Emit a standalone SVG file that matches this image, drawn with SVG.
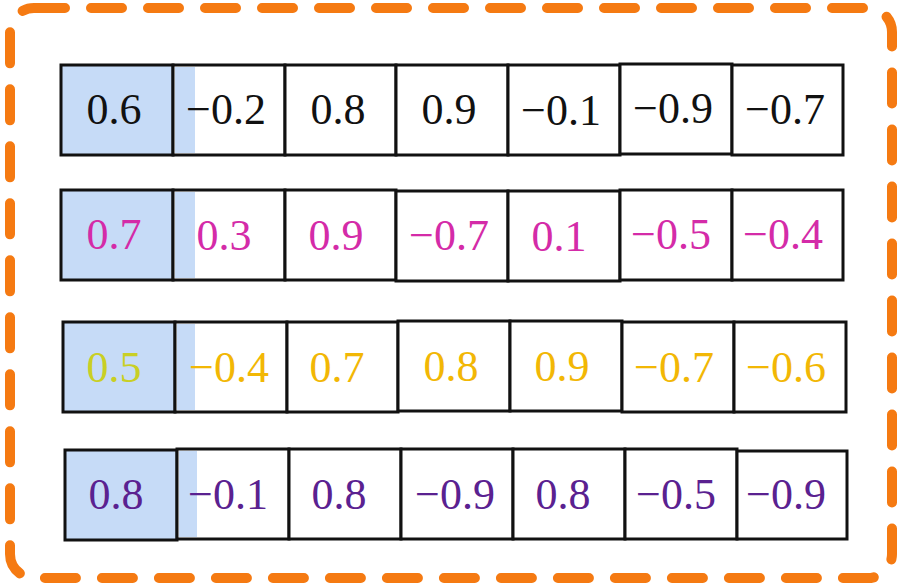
<svg xmlns="http://www.w3.org/2000/svg" width="900" height="587" viewBox="0 0 900 587">
<style>
.frame{fill:none;stroke:#f57a12;stroke-width:10;stroke-linecap:round;stroke-dasharray:31 26}
.cell{fill:#ffffff;stroke:#111;stroke-width:3}
.head{fill:#c6dbf7;stroke:#111;stroke-width:3}
.strip{fill:#c6dbf7}
text{font-family:"Liberation Serif","DejaVu Serif",serif;font-size:44px;text-anchor:middle}
.k{fill:#111}
.m{fill:#d42ba8}
.y{fill:#f2b705}
.yg{fill:#c9cf24}
.p{fill:#5a2190}
</style>
<rect class="frame" x="10" y="8" width="882" height="570" rx="24"/>
<g id="row1">
<g id="r1c1"><rect class="head" x="61" y="65" width="112" height="90"/><text class="k" x="114" y="124">0.6</text></g>
<g id="r1c2"><rect class="cell" x="173" y="65" width="112" height="90"/><rect class="strip" x="175" y="67" width="20" height="86"/><text class="k" x="226" y="124">−0.2</text></g>
<g id="r1c3"><rect class="cell" x="285" y="65" width="111" height="90"/><text class="k" x="338" y="124">0.8</text></g>
<g id="r1c4"><rect class="cell" x="396" y="65" width="112" height="90"/><text class="k" x="449" y="124">0.9</text></g>
<g id="r1c5"><rect class="cell" x="508" y="65" width="112" height="90"/><text class="k" x="561" y="125">−0.1</text></g>
<g id="r1c6"><rect class="cell" x="620" y="64" width="112" height="90"/><text class="k" x="673" y="123">−0.9</text></g>
<g id="r1c7"><rect class="cell" x="732" y="65" width="111" height="90"/><text class="k" x="785" y="124">−0.7</text></g>
</g>
<g id="row2">
<g id="r2c1"><rect class="head" x="61" y="190" width="112" height="90"/><text class="m" x="114" y="249">0.7</text></g>
<g id="r2c2"><rect class="cell" x="173" y="190" width="112" height="90"/><rect class="strip" x="175" y="192" width="20" height="86"/><text class="m" x="224" y="250">0.3</text></g>
<g id="r2c3"><rect class="cell" x="285" y="190" width="111" height="90"/><text class="m" x="336" y="250">0.9</text></g>
<g id="r2c4"><rect class="cell" x="396" y="191" width="112" height="90"/><text class="m" x="449" y="250">−0.7</text></g>
<g id="r2c5"><rect class="cell" x="508" y="191" width="112" height="90"/><text class="m" x="559" y="251">0.1</text></g>
<g id="r2c6"><rect class="cell" x="620" y="190" width="112" height="90"/><text class="m" x="671" y="249">−0.5</text></g>
<g id="r2c7"><rect class="cell" x="732" y="190" width="111" height="90"/><text class="m" x="783" y="249">−0.4</text></g>
</g>
<g id="row3">
<g id="r3c1"><rect class="head" x="63" y="322" width="112" height="90"/><text class="yg" x="114" y="382">0.5</text></g>
<g id="r3c2"><rect class="cell" x="175" y="322" width="112" height="90"/><rect class="strip" x="177" y="324" width="18" height="86"/><text class="y" x="229" y="382">−0.4</text></g>
<g id="r3c3"><rect class="cell" x="287" y="322" width="111" height="90"/><text class="y" x="337" y="382">0.7</text></g>
<g id="r3c4"><rect class="cell" x="398" y="321" width="112" height="90"/><text class="y" x="451" y="381">0.8</text></g>
<g id="r3c5"><rect class="cell" x="510" y="321" width="112" height="90"/><text class="y" x="562" y="381">0.9</text></g>
<g id="r3c6"><rect class="cell" x="622" y="322" width="112" height="90"/><text class="y" x="674" y="382">−0.7</text></g>
<g id="r3c7"><rect class="cell" x="734" y="322" width="112" height="90"/><text class="y" x="786" y="382">−0.6</text></g>
</g>
<g id="row4">
<g id="r4c1"><rect class="head" x="65" y="450" width="112" height="90"/><text class="p" x="116" y="509">0.8</text></g>
<g id="r4c2"><rect class="cell" x="177" y="449" width="112" height="90"/><rect class="strip" x="179" y="451" width="18" height="86"/><text class="p" x="228" y="509">−0.1</text></g>
<g id="r4c3"><rect class="cell" x="289" y="449" width="112" height="90"/><text class="p" x="339" y="509">0.8</text></g>
<g id="r4c4"><rect class="cell" x="401" y="449" width="112" height="90"/><text class="p" x="455" y="509">−0.9</text></g>
<g id="r4c5"><rect class="cell" x="513" y="449" width="112" height="90"/><text class="p" x="563" y="509">0.8</text></g>
<g id="r4c6"><rect class="cell" x="625" y="449" width="112" height="90"/><text class="p" x="676" y="509">−0.5</text></g>
<g id="r4c7"><rect class="cell" x="737" y="451" width="110" height="88"/><text class="p" x="786" y="509">−0.9</text></g>
</g>
</svg>
